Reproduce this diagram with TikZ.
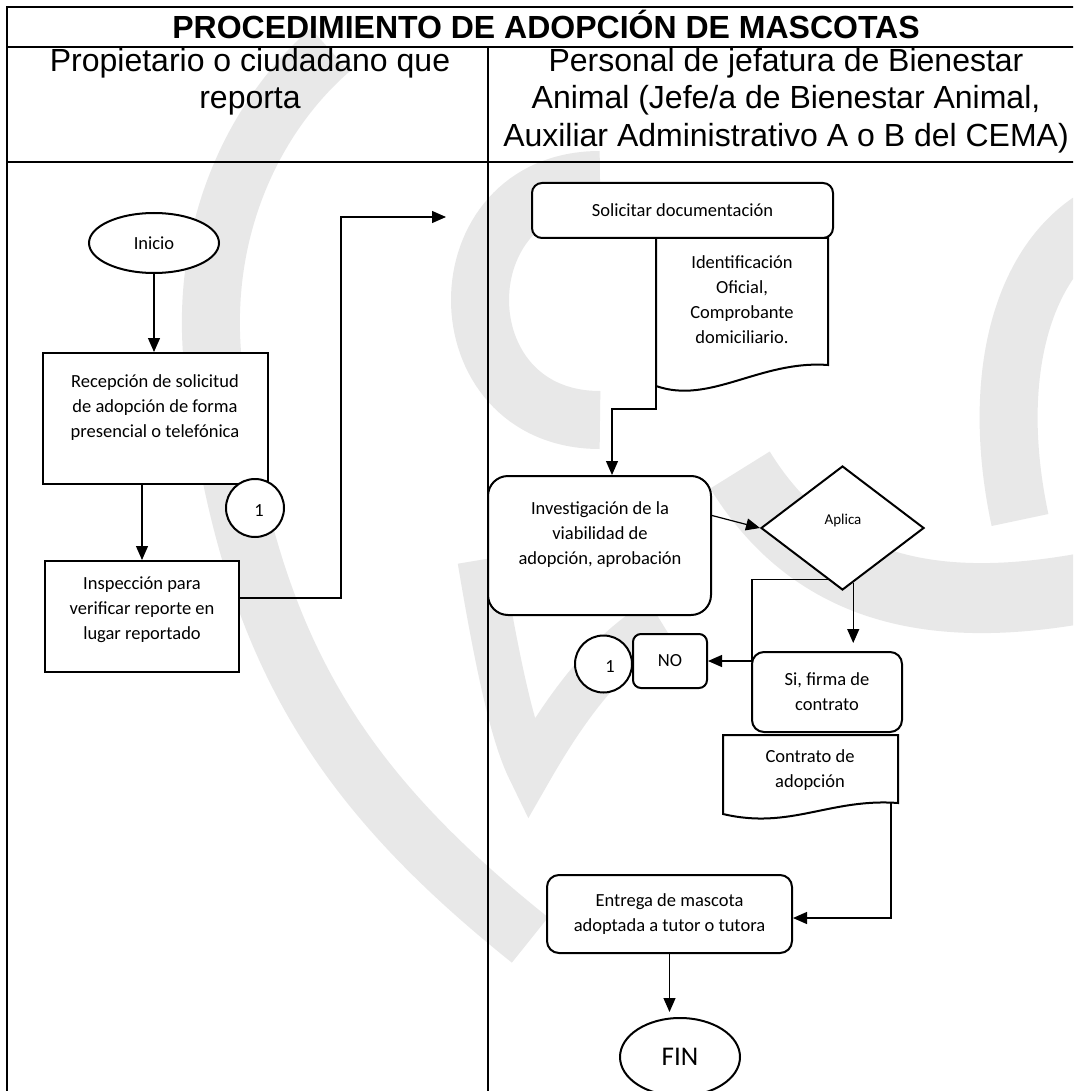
\documentclass[tikz,border=0pt]{standalone}
\usepackage{fontspec}
\setmainfont{Carlito}
\newfontfamily\hdrfont{Liberation Sans}
\usetikzlibrary{arrows.meta,shapes.geometric,calc}

\begin{document}
\begin{tikzpicture}[x=1pt,y=-1pt,
  frame/.style={line width=2pt},
  shp/.style={draw,line width=2pt,fill=white,inner sep=0pt},
  lbl/.style={align=center,font=\fontsize{18.5}{25}\selectfont,inner sep=0pt},
  conn/.style={line width=1.2pt},
  arr/.style={conn,-{Triangle[length=14pt,width=12pt]}},
  hdr/.style={align=center,font=\hdrfont\fontsize{32}{37.5}\selectfont,inner sep=0pt},
  wm/.style={draw=black!9,line width=58pt,line cap=butt}
]
\useasboundingbox (0,0) rectangle (1073,1091);
\clip (0,0) rectangle (1073,1091);
\fill[white] (0,0) rectangle (1073,1091);

% faint background emblem
\draw[wm] (330,50) .. controls (250,120) and (195,240) .. (215,380)
  .. controls (250,640) and (330,780) .. (530,940);
\draw[wm] (600,180) .. controls (440,180) and (440,420) .. (600,420);
\draw[wm,line width=70pt] (740,470) .. controls (820,600) and (950,615) .. (1100,585);
\draw[wm,line width=45pt] (480,560) .. controls (500,680) and (515,740) .. (530,770) .. controls (570,700) and (610,650) .. (660,620);
\draw[wm] (1100,215) .. controls (1020,260) and (990,380) .. (1020,520);

% table frame
\draw[frame] (7,1100) -- (7,7) -- (1085,7) -- (1085,1100);
\draw[frame] (7,47) -- (1085,47);
\draw[frame] (7,162) -- (1085,162);
\draw[frame] (488,47) -- (488,1100);

\node[hdr,font=\hdrfont\bfseries\fontsize{32}{37.5}\selectfont] (title) at (546,24) {PROCEDIMIENTO DE ADOPCIÓN DE MASCOTAS};
\node[hdr] (lanea) at (250,81.5) {Propietario o ciudadano que\\reporta};
\node[hdr] (laneb) at (786,100.5) {Personal de jefatura de Bienestar\\Animal (Jefe/a de Bienestar Animal,\\Auxiliar Administrativo A o B del CEMA)};

% left lane
\node[shp,ellipse,minimum width=130pt,minimum height=60pt,lbl] (inicio) at (154,243) {Inicio};
\node[shp,rectangle,minimum width=225pt,minimum height=131pt] (recep) at (155.5,418.5) {};
\node[lbl] (receptxt) at (155,408) {Recepción de solicitud\\de adopción de forma\\presencial o telefónica};
\node[shp,circle,minimum size=58pt] (cona) at (255,508) {};
\node[lbl] (conatxt) at (259,511) {1};
\node[shp,rectangle,minimum width=194pt,minimum height=111pt] (insp) at (142,616.5) {};
\node[lbl] (insptxt) at (142,610) {Inspección para\\verificar reporte en\\lugar reportado};
\coordinate (outa) at (446,217);

\draw[arr] (inicio.south) -- (inicio.south |- recep.north);
\draw[arr] (recep.south -| insp.north) -- (insp.north);
\draw[arr] ([yshift=18.5pt]insp.east) -| (341,217) -- (outa);

% right lane
\draw[shp] (656,238) -- (828,238) -- (828,365) .. controls (760,360) and (710,405) .. (656,386) -- cycle;
\coordinate (doca) at (656,386);
\node[lbl] (docatxt) at (742,300) {Identificación\\Oficial,\\Comprobante\\domiciliario.};
\node[shp,rounded corners=10pt,minimum width=301pt,minimum height=55pt,lbl] (solic) at (682.5,210.5) {Solicitar documentación};

\node[shp,rounded corners=20pt,minimum width=223pt,minimum height=139pt] (invest) at (599.5,545.5) {};
\node[lbl] (investtxt) at (600,535) {Investigación de la\\viabilidad de\\adopción, aprobación};

\node[shp,diamond,minimum width=163pt,minimum height=124pt] (aplica) at (842.5,528) {};
\node[lbl,font=\fontsize{15}{18}\selectfont] (aplicatxt) at (843,520) {Aplica};

\node[shp,rounded corners=8pt,minimum width=74pt,minimum height=54pt,lbl] (no) at (670,661) {NO};
\node[shp,circle,minimum size=57pt] (conb) at (603.5,664) {};
\node[lbl] (conbtxt) at (610,667) {1};

\node[shp,rounded corners=12pt,minimum width=150pt,minimum height=80pt,lbl] (si) at (827,692) {Si, firma de\\contrato};

\draw[shp] (723,735) -- (898,735) -- (898,803) .. controls (830,798) and (790,830) .. (723,814) -- cycle;
\coordinate (docb) at (891,803);
\node[lbl] (docbtxt) at (810,770.5) {Contrato de\\adopción};

\node[shp,rounded corners=12pt,minimum width=245pt,minimum height=78pt,lbl] (entrega) at (669.5,914) {Entrega de mascota\\adoptada a tutor o tutora};

\node[shp,ellipse,minimum width=120pt,minimum height=78pt,font=\fontsize{27}{30}\selectfont] (fin) at (680,1057) {FIN};

% connectors
\draw[arr] (doca) -- (656,409) -| ([xshift=12.5pt]invest.north);
\draw[arr] ([yshift=30pt]invest.east) -- (aplica.west);
\coordinate (aplno) at ($(aplica.west)!0.82!(aplica.south)$);
\coordinate (aplsi) at ($(aplica.south)!0.13!(aplica.east)$);
\draw[arr] (aplno) -| (752,620) |- (no.east);
\draw[arr,shorten >=8pt] (aplsi) -- (aplsi |- si.north);
\draw[arr] (docb) |- ([yshift=-4pt]entrega.east);
\draw[arr,shorten >=5pt] (entrega.south) -- (entrega.south |- fin.north);
\end{tikzpicture}
\end{document}
